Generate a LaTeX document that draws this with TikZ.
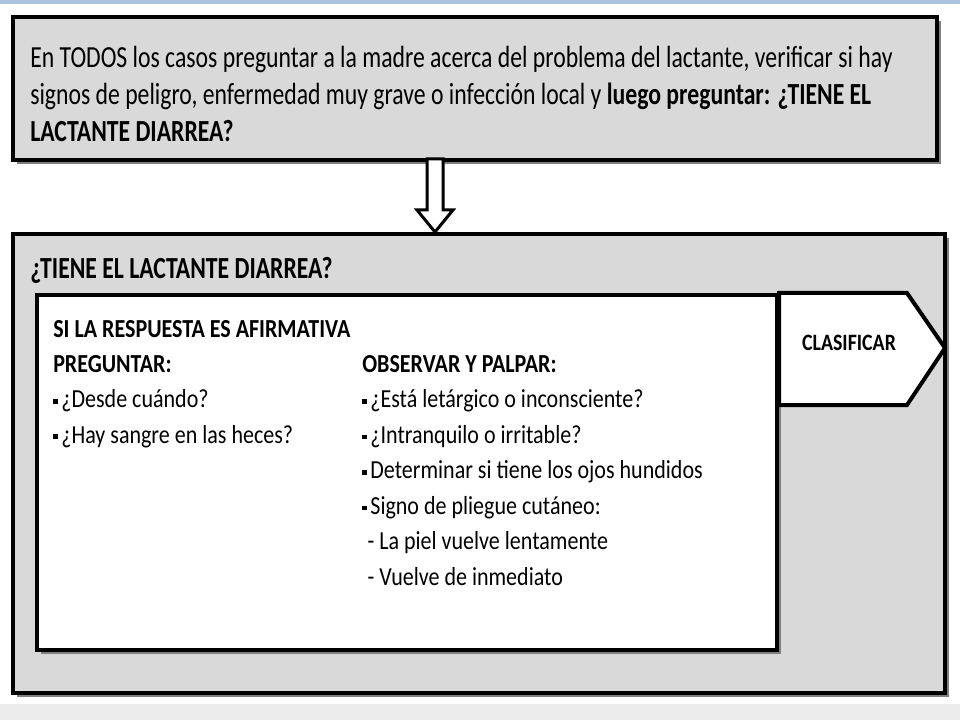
\documentclass[tikz,border=0pt]{standalone}
\usepackage{fontspec}
\setmainfont{Carlito}[FakeStretch=0.847]
\newfontfamily\tallfont{Carlito}[FakeStretch=0.773]
\usetikzlibrary{calc,positioning,shadows}
\definecolor{boxgray}{RGB}{217,217,217}
\definecolor{shadowgray}{RGB}{128,128,128}
\definecolor{stripblue}{RGB}{170,195,225}
\definecolor{stripgray}{RGB}{236,236,236}
\tikzset{
  panel/.style={draw=black, line width=3pt, fill=boxgray, rectangle, inner sep=0pt,
    drop shadow={shadow xshift=3pt, shadow yshift=-3pt, fill=shadowgray, opacity=1}},
  whitepanel/.style={panel, fill=white},
  tab/.style={draw=black, line width=3pt, fill=white, line join=miter},
  hollow/.style={draw=black, line width=2.25pt, fill=white, line join=miter},
  txt/.style={anchor=base west, align=left, inner sep=0pt, font=\tallfont\fontsize{23}{28.1}\selectfont},
  list/.style={txt, font=\fontsize{19.5}{26.6}\selectfont}
}
\newcommand\bul{\raisebox{2.8pt}{\rule{3.6pt}{3.6pt}}\hspace{2.5pt}}

\begin{document}
\begin{tikzpicture}[x=0.75pt, y=-0.75pt]
  \useasboundingbox (0,0) rectangle (960,720);
  \fill[white] (0,0) rectangle (960,720);
  \fill[stripblue] (0,0) rectangle (960,4);
  \fill[stripgray] (0,704) rectangle (960,720);
  % boxes
  \node[panel, minimum width=693pt, minimum height=107.25pt] (top) at (475,88.5) {};
  \node[panel, minimum width=699pt, minimum height=344.25pt] (big) at (479,463.5) {};
  \node[whitepanel, minimum width=555pt, minimum height=266.25pt] (inner) at (407,472.5) {};
  \draw[tab] (inner.north east) -- ++(128,0) -- ++(38,55) coordinate (tip) -- ++(-38,57) -- ++(-128,0) -- cycle;
  % hollow arrow
  \path (top.south) ++(-40,0) coordinate (a0);
  \path (big.north) ++(-44,0) coordinate (a1);
  \draw[hollow] ($(a0)+(-8,-3)$) -- ($(a1)+(-8,-22)$) -- ($(a1)+(-18,-22)$) -- (a1)
    -- ($(a1)+(18,-22)$) -- ($(a1)+(8,-22)$) -- ($(a0)+(8,-3)$) -- cycle;
  % texts (base = last line)
  \node[txt] (intro) at (30,142) {En TODOS los casos preguntar a la madre acerca del problema del lactante, verificar si hay\\
    signos de peligro, enfermedad muy grave o infección local y \textbf{luego preguntar: ¿TIENE EL}\\
    \textbf{LACTANTE DIARREA?}};
  \node[txt, font=\tallfont\bfseries\fontsize{23}{28}\selectfont] (head) at (30,279) {¿TIENE EL LACTANTE DIARREA?};
  \node[list, font=\fontsize{19.5}{26.5}\selectfont] (ask) at (53,443) {\textbf{SI LA RESPUESTA ES AFIRMATIVA}\\
    \textbf{PREGUNTAR:}\\
    \bul ¿Desde cuándo?\\
    \bul ¿Hay sangre en las heces?};
  \node[list] (look) at (362,585) {\textbf{OBSERVAR Y PALPAR:}\\
    \bul ¿Está letárgico o inconsciente?\\
    \bul ¿Intranquilo o irritable?\\
    \bul Determinar si tiene los ojos hundidos\\
    \bul Signo de pliegue cutáneo:\\
    \hspace*{4pt}- La piel vuelve lentamente\\
    \hspace*{4pt}- Vuelve de inmediato};
  \node[font=\bfseries\fontsize{17.6}{20}\selectfont, inner sep=0pt, anchor=base] (clas) at (849,350) {CLASIFICAR};
\end{tikzpicture}
\end{document}
